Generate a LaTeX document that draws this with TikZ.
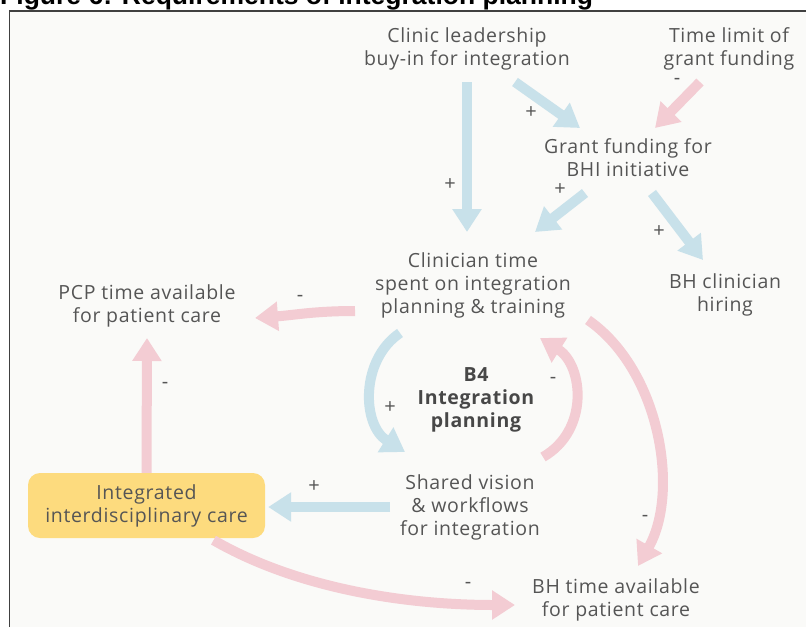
\documentclass[tikz,border=0pt]{standalone}
\usepackage{fontspec}
\setmainfont{Open Sans}[LetterSpace=3.5]
\newfontfamily\titlefont{Liberation Sans}
\usetikzlibrary{arrows.meta,positioning,calc}

\definecolor{linkblue}{HTML}{C8E1EA}
\definecolor{linkpink}{HTML}{F3CCD3}
\definecolor{boxyellow}{HTML}{FDDB7E}
\definecolor{txtgray}{HTML}{555555}
\definecolor{panelbg}{HTML}{FAFAF8}

\tikzset{
    var/.style={font=\fontsize{19.5}{23}\selectfont, text=txtgray, align=center, inner sep=2pt},
    sgn/.style={font=\fontsize{20}{20}\selectfont, text=txtgray, inner sep=0pt},
    poslink/.style={draw=linkblue, line width=10pt, -{Triangle[width=28pt,length=23pt]}},
    neglink/.style={draw=linkpink, line width=10pt, -{Triangle[width=28pt,length=23pt]}}
}

\begin{document}
\begin{tikzpicture}[x=1pt, y=-1pt]
    \useasboundingbox (0,0) rectangle (806,627);
    \clip (0,0) rectangle (806,627);

    % Panel and title
    \fill[panelbg] (10,11) rectangle (806,627);
    \draw[black!75, line width=1.5pt] (9.5,627) -- (9.5,11) -- (806,11);
    \node[anchor=base west, inner sep=0pt, font=\titlefont\bfseries\fontsize{26.5}{26.5}\selectfont] (title) at (0,4) {Figure 6: Requirements of integration planning};

    % Variables
    \node[var] (clinic) at (467,49) {Clinic leadership\\buy-in for integration};
    \node[var] (timelimit) at (729,49) {Time limit of\\grant funding};
    \node[var] (grant) at (628,158) {Grant funding for\\BHI initiative};
    \node[var] (clinician) at (473,285) {Clinician time\\spent on integration\\planning \& training};
    \node[var] (pcp) at (147,306) {PCP time available\\for patient care};
    \node[var] (hiring) at (725,295) {BH clinician\\hiring};
    \node[var, font=\bfseries\fontsize{19.5}{23}\selectfont, text=black!72] (loop) at (476,400) {B4\\Integration\\planning};
    \node[var] (shared) at (470,507) {Shared vision\\\& workflows\\for integration};
    \node[var, fill=boxyellow, rounded corners=12pt, minimum width=237pt, minimum height=65pt] (integrated) at (146.5,505.5) {Integrated\\interdisciplinary care};
    \node[var] (bhtime) at (616,600) {BH time available\\for patient care};

    % Links
    \draw[poslink] ([shift={(0,33)}]clinic.center) -- ([shift={(-6,-53)}]clinician.center);
    \draw[poslink] ([shift={(48,33)}]clinic.center) -- ([shift={(-48,-30)}]grant.center);
    \draw[neglink] ([shift={(-29,33)}]timelimit.center) -- ([shift={(27,-30)}]grant.center);
    \draw[poslink] ([shift={(-43,35)}]grant.center) -- ([shift={(62,-53)}]clinician.center);
    \draw[poslink] ([shift={(24,35)}]grant.center) -- ([shift={(-22,-35)}]hiring.center);
    \draw[neglink] ([shift={(-118,26)}]clinician.center) .. controls +(-40,0) and +(40,-3) .. ([shift={(108,12)}]pcp.center);
    \draw[neglink] (integrated.north) -- ([shift={(0,32)}]pcp.center);
    \draw[poslink] ([shift={(-73,48)}]clinician.center) .. controls (360,360) and (362,425) .. ([shift={(-65,-55)}]shared.center);
    \draw[neglink] ([shift={(73,-50)}]shared.center) .. controls (590,430) and (583,365) .. ([shift={(67,53)}]clinician.center);
    \draw[neglink] ([shift={(115,35)}]clinician.center) .. controls (660,370) and (680,492) .. ([shift={(22,-34)}]bhtime.center);
    \draw[poslink] ([shift={(-80,0)}]shared.center) -- ([xshift=3pt]shared.center -| integrated.east);
    \draw[neglink] ([shift={(67,2)}]integrated.south) .. controls (300,590) and (410,605) .. ([shift={(-101,5)}]bhtime.center);

    % Polarities
    \node[sgn] (s1) at (450,185) {+};
    \node[sgn] (s2) at (531,113) {+};
    \node[sgn] (s3) at (677,81) {-};
    \node[sgn] (s4) at (560,190) {+};
    \node[sgn] (s5) at (659,232) {+};
    \node[sgn] (s6) at (300,298) {-};
    \node[sgn] (s7) at (165,385) {-};
    \node[sgn] (s8) at (390,408) {+};
    \node[sgn] (s9) at (553,380) {-};
    \node[sgn] (s10) at (645,518) {-};
    \node[sgn] (s11) at (314,487) {+};
    \node[sgn] (s12) at (468,585) {-};
\end{tikzpicture}
\end{document}
